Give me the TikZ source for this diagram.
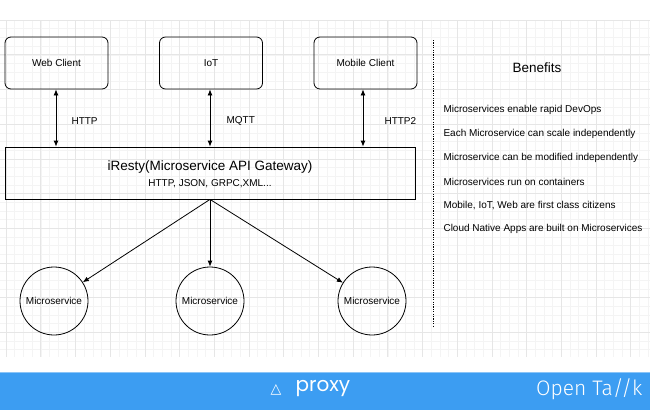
\documentclass[tikz,border=0pt]{standalone}
\usepackage{fontspec}
\setmainfont{Liberation Sans}
\newfontfamily\symfont{DejaVu Sans}
\newfontfamily\proxyfont{Poppins}
\newfontfamily\talkfont{Fira Sans Light}
\usepackage{tikz}
\usetikzlibrary{arrows.meta}
\definecolor{barblue}{HTML}{3C9DF2}
\definecolor{gridminor}{HTML}{F4F4F4}
\definecolor{gridmajor}{HTML}{E6E6E6}
\tikzstyle{client}=[draw=black,line width=0.8pt,rounded corners=6pt,minimum width=103pt,minimum height=52pt,font=\fontsize{10}{12}\selectfont]
\tikzstyle{service}=[draw=black,line width=0.8pt,circle,minimum size=68pt,inner sep=0pt,font=\fontsize{10}{12}\selectfont]
\tikzstyle{proto}=[anchor=west,font=\fontsize{10}{12}\selectfont]
\tikzstyle{benefit}=[anchor=west,font=\fontsize{10}{12}\selectfont]
\tikzstyle{link}=[line width=0.8pt,-{Latex[length=6pt,width=5pt]}]
\tikzstyle{twoway}=[line width=0.8pt,{Latex[length=6pt,width=5pt]}-{Latex[length=6pt,width=5pt]}]

\begin{document}
\begin{tikzpicture}[x=1pt,y=-1pt]
      \useasboundingbox (0,0) rectangle (650,410);

      % grid paper
      \foreach \gx in {0,...,74} {
        \draw[gridminor,line width=0.4pt] (6+\gx*8.675,20) -- (6+\gx*8.675,357);
      }
      \foreach \gy in {0,...,38} {
        \draw[gridminor,line width=0.4pt] (0,20+\gy*8.675) -- (650,20+\gy*8.675);
      }
      \foreach \gx in {0,...,18} {
        \draw[gridmajor,line width=0.5pt] (6+\gx*34.7,20) -- (6+\gx*34.7,357);
      }
      \foreach \gy in {0,...,9} {
        \draw[gridmajor,line width=0.5pt] (0,20+\gy*34.7) -- (650,20+\gy*34.7);
      }

      \node[client] (web) at (56.5,63) {Web Client};
      \node[client] (iot) at (211,63) {IoT};
      \node[client] (mobile) at (365.5,63) {Mobile Client};

      \node[draw=black,line width=0.8pt,minimum width=410pt,minimum height=52pt] (gateway) at (210,173) {};
      \node[font=\fontsize{13.5}{16}\selectfont] (title) at (210,167) {iResty(Microservice API Gateway)};
      \node[font=\fontsize{10}{12}\selectfont] (formats) at (210,184) {HTTP, JSON, GRPC,XML...};

      \node[service] (ms1) at (54,301) {Microservice};
      \node[service] (ms2) at (210,301) {Microservice};
      \node[service] (ms3) at (372,301) {Microservice};

      \draw[twoway] (web.south -| 56,0) -- (gateway.north -| 56,0);
      \draw[twoway] (iot.south -| 210,0) -- (gateway.north -| 210,0);
      \draw[twoway] (mobile.south -| 363,0) -- (gateway.north -| 363,0);

      \node[proto] (http) at (68,121) {HTTP};
      \node[proto] (mqtt) at (223,121) {MQTT};
      \node[proto] (http2) at (381,121) {HTTP2};

      \draw[link] (gateway.south) -- (ms1);
      \draw[link] (gateway.south) -- (ms2);
      \draw[link] (gateway.south) -- (ms3);

      % benefits column
      \draw[line width=1pt,dash pattern=on 1.2pt off 1.2pt] (433,40) -- (433,327);
      \node[font=\fontsize{13.5}{16}\selectfont] (benefits) at (537,68) {Benefits};
      \node[benefit] (b1) at (440,110) {Microservices enable rapid DevOps};
      \node[benefit] (b2) at (440,134) {Each Microservice can scale independently};
      \node[benefit] (b3) at (440,158) {Microservice can be modified independently};
      \node[benefit] (b4) at (440,182) {Microservices run on containers};
      \node[benefit] (b5) at (440,206) {Mobile, IoT, Web are first class citizens};
      \node[benefit] (b6) at (440,229) {Cloud Native Apps are built on Microservices};

      % footer bar
      \fill[barblue] (0,372) rectangle (650,410);
      \draw[barblue!60!white,line width=1pt] (0,372.5) -- (650,372.5);
      \node[text=white,font=\symfont\fontsize{14}{16}\selectfont] (delta) at (276,390) {△};
      \node[text=white,font=\proxyfont\fontsize{20}{24}\selectfont,anchor=west] (proxy) at (292,389) {proxy};
      \node[text=white,font=\talkfont\fontsize{21}{24}\selectfont,anchor=east] (talk) at (646,389) {Open Ta//k};
\end{tikzpicture}
\end{document}
